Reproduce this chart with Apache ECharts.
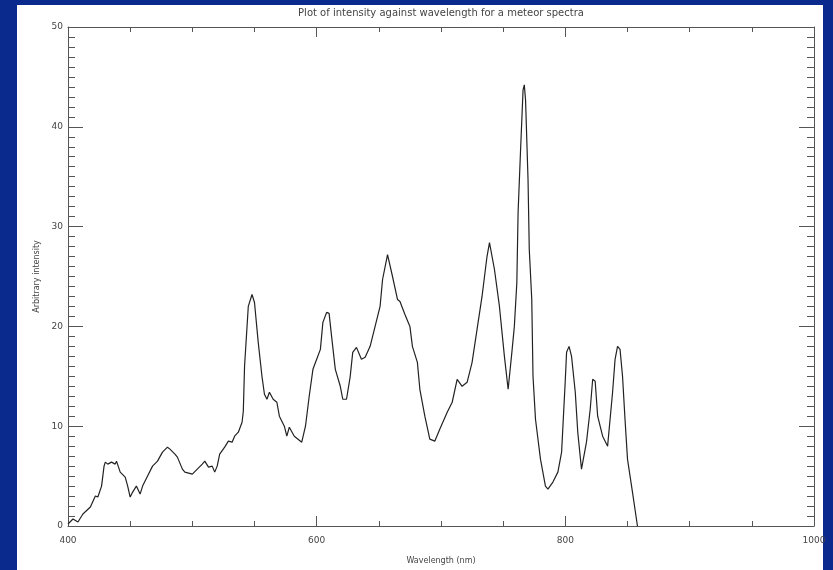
<!DOCTYPE html>
<html lang="en">
<head>
	<meta charset="UTF-8">
	<title>Meteor spectra</title>
	<style>
		* {
			margin: 0;
			padding: 0;
		}

		#box {
			width: 833px;
			height: 570px;
		}
	</style>
	<script src="https://cdn.jsdelivr.net/npm/echarts@6/dist/echarts.min.js"></script>
</head>
<body>
<div id="box"></div>
</body>
<script>
	// wavelength in nm
	const wavelength = [
		400, 404, 408, 412, 418, 422, 424, 427, 429, 430, 432, 435, 438, 439, 442, 446, 448, 450, 452, 455,
		458, 460, 464, 468, 472, 476, 480, 482, 486, 488, 492, 494, 500, 504, 508, 510, 513, 516, 518, 520,
		522, 526, 529, 532, 534, 537, 540, 541, 542, 545, 548, 550, 553, 556, 558, 560, 562, 565, 568, 570,
		574, 576, 578, 582, 588, 591, 594, 597, 600, 603, 605, 608, 610, 612, 615, 619, 621, 624, 627, 629,
		632, 636, 639, 643, 647, 651, 653, 657, 661, 665, 667, 671, 675, 677, 681, 683, 687, 691, 695, 699,
		705, 709, 713, 717, 721, 725, 729, 733, 737, 739, 743, 747, 751, 754, 757, 759, 761, 762, 764, 766,
		767, 768, 770, 771, 773, 774, 776, 780, 784, 786, 790, 794, 797, 800, 801, 803, 805, 808, 810, 813,
		817, 820, 822, 824, 826, 830, 834, 838, 840, 842, 844, 846, 848, 850, 854, 858
	];
	// arbitrary intensity
	const intensity = [
		0.2, 0.7, 0.4, 1.2, 1.9, 3.0, 2.9, 4.0, 6.0, 6.4, 6.2, 6.4, 6.2, 6.5, 5.4, 4.9, 4.0, 2.9, 3.4, 4.0,
		3.2, 4.0, 5.0, 6.0, 6.5, 7.4, 7.9, 7.7, 7.2, 6.9, 5.7, 5.4, 5.2, 5.7, 6.2, 6.5, 5.9, 6.0, 5.4, 6.0,
		7.2, 7.9, 8.5, 8.4, 9.0, 9.4, 10.4, 11.5, 16.0, 22.0, 23.2, 22.4, 18.4, 15.0, 13.2, 12.7, 13.4, 12.7, 12.4, 11.0,
		10.0, 9.0, 9.9, 9.0, 8.4, 10.0, 13.0, 15.7, 16.7, 17.7, 20.4, 21.4, 21.3, 19.0, 15.7, 14.0, 12.7, 12.7, 15.0, 17.4,
		17.9, 16.7, 16.9, 18.0, 20.0, 22.0, 24.7, 27.2, 25.0, 22.7, 22.5, 21.2, 20.0, 18.0, 16.4, 13.7, 11.0, 8.7, 8.5, 9.7,
		11.4, 12.4, 14.7, 14.0, 14.4, 16.4, 19.7, 23.0, 27.0, 28.4, 25.7, 22.0, 17.0, 13.7, 17.4, 20.0, 24.4, 31.4, 37.7, 43.7,
		44.2, 42.7, 34.7, 27.7, 22.7, 15.0, 10.7, 6.7, 4.0, 3.7, 4.4, 5.4, 7.4, 14.7, 17.4, 18.0, 17.0, 13.4, 9.4, 5.7,
		8.4, 11.7, 14.7, 14.5, 11.0, 9.0, 8.0, 13.4, 16.7, 18.0, 17.7, 15.0, 10.7, 6.7, 3.4, 0.0
	];
	const xTicks = [400, 600, 800, 1000];
	const yTicks = [0, 10, 20, 30, 40, 50];

	const points = wavelength.map(function (w, i) {
		return [w, intensity[i]];
	});

	const axisCol = '#555';
	const textStyle = {color: '#444', fontSize: 9, fontFamily: 'DejaVu Sans'};

	// shared x and y axis settings, ticks inward like the original
	function xAx(pos, showLabel) {
		return {
			type: 'value', position: pos, min: xTicks[0], max: xTicks[xTicks.length - 1], interval: 200,
			axisLine: {onZero: false, lineStyle: {color: axisCol, width: 1}},
			axisTick: {inside: true, length: 10, lineStyle: {color: axisCol}},
			minorTick: {show: true, splitNumber: 4, length: 5, lineStyle: {color: axisCol}},
			splitLine: {show: false},
			axisLabel: Object.assign({
				show: showLabel, margin: 10, hideOverlap: false,
				formatter: function (v) {
					return String(v);
				},
			}, textStyle),
		};
	}

	function yAx(pos, showLabel) {
		return {
			type: 'value', position: pos, min: yTicks[0], max: yTicks[yTicks.length - 1], interval: 10,
			axisLine: {show: true, onZero: false, lineStyle: {color: axisCol, width: 1}},
			axisTick: {show: true, inside: true, length: 15, lineStyle: {color: axisCol}},
			minorTick: {show: true, splitNumber: 10, length: 7, lineStyle: {color: axisCol}},
			splitLine: {show: false},
			axisLabel: Object.assign({show: showLabel, margin: 5}, textStyle),
		};
	}

	const myEcharts = echarts.init(document.getElementById('box'));

	const xBottom = xAx('bottom', true);
	xBottom.name = 'Wavelength (nm)';
	xBottom.nameLocation = 'middle';
	xBottom.nameGap = 31;
	xBottom.nameTextStyle = {color: '#444', fontSize: 8, fontFamily: 'DejaVu Sans'};

	const yLeft = yAx('left', true);
	yLeft.name = 'Arbitrary intensity';
	yLeft.nameLocation = 'middle';
	yLeft.nameGap = 22;
	yLeft.nameTextStyle = {color: '#444', fontSize: 8, fontFamily: 'DejaVu Sans'};

	myEcharts.setOption({
		backgroundColor: '#0a2a8e',
		animation: false,
		graphic: [
			{
				type: 'rect', z: -10, silent: true,
				shape: {x: 17, y: 5, width: 806, height: 565},
				style: {fill: '#ffffff'},
			},
			{
				type: 'text', x: 441, y: 13,
				style: {
					text: 'Plot of intensity against wavelength for a meteor spectra',
					fill: '#444', fontSize: 10, fontFamily: 'DejaVu Sans',
					align: 'center', verticalAlign: 'middle',
				},
			},
		],
		grid: {left: 68, right: 19, top: 27, bottom: 43},
		xAxis: [xBottom, xAx('top', false)],
		yAxis: [yLeft, yAx('right', false)],
		series: [
			{
				type: 'line',
				data: points,
				showSymbol: false,
				lineStyle: {color: '#222', width: 1.2},
			},
		],
	});
</script>
</html>
